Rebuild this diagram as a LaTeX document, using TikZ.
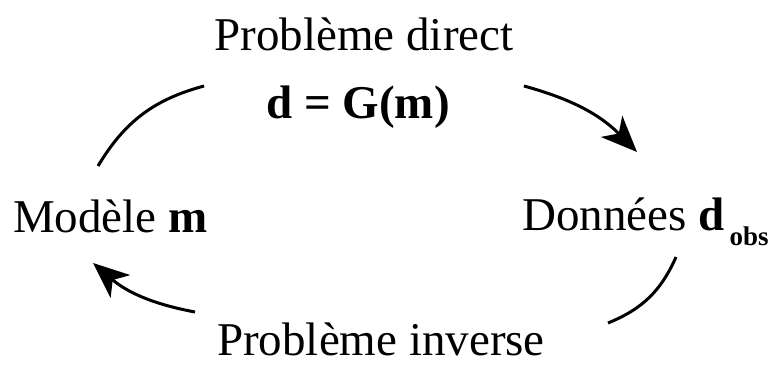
\documentclass[tikz,border=0pt]{standalone}
\usepackage{fontspec}
\setmainfont{Liberation Serif}
\usepackage{tikz}
\usetikzlibrary{arrows.meta}

\begin{document}
\begin{tikzpicture}[
    x=1pt, y=1pt,
    label/.style={inner sep=0pt, font=\fontsize{47}{56}\selectfont},
    arc/.style={line width=3pt, bend left=22},
    arrow/.style={arc, bend left=15, -{Stealth[length=36pt,width=30pt,inset=10pt]}}
]
\useasboundingbox (0,0) rectangle (771,-367);

% Texts
\node[label, anchor=base] (direct) at (364,-50) {Problème direct};
\node[label, anchor=base] (equation) at (358,-118) {\textbf{d = G(m)}};
\node[label, anchor=base west] (model) at (13,-232) {Modèle \textbf{m}};
\node[label, anchor=base west] (data) at (522,-230) {Données \textbf{d}\kern5pt\raisebox{-15pt}{\fontsize{27}{30}\selectfont\bfseries obs}};
\node[label, anchor=base] (inverse) at (381,-355) {Problème inverse};

% Cycle
\draw[arc] ([xshift=85pt,yshift=66pt]model.base west) to ([xshift=-62pt,yshift=32pt]equation.base west);
\draw[arrow] ([xshift=74pt,yshift=32pt]equation.base east) to ([xshift=115pt,yshift=78pt]data.base west);
\draw[arc] ([xshift=154pt,yshift=-27pt]data.base west) to ([xshift=63pt,yshift=32pt]inverse.base east);
\draw[arrow] ([xshift=-22pt,yshift=43pt]inverse.base west) to ([xshift=80pt,yshift=-31pt]model.base west);

\end{tikzpicture}
\end{document}
